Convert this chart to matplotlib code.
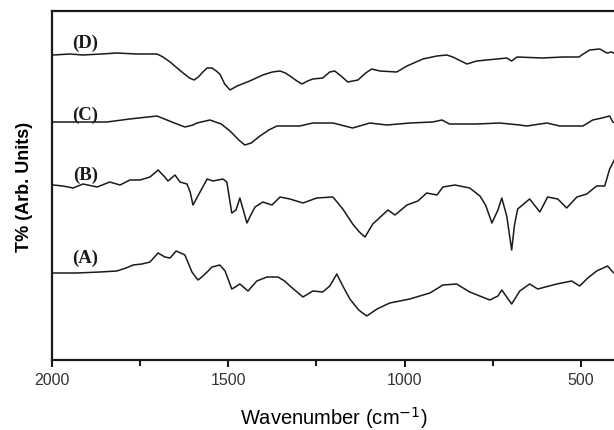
import matplotlib

matplotlib.use("Agg")
import matplotlib.pyplot as plt
from matplotlib.ticker import MultipleLocator

# --- dados (numero de onda em cm-1, T% em unidades arbitrarias) ---
wn_d = [1996, 1950, 1912, 1860, 1816, 1760, 1702, 1685, 1665, 1645, 1628, 1610, 1597, 1585, 1572,
        1560, 1546, 1534, 1524, 1510, 1495, 1485, 1475, 1439, 1402, 1375, 1353, 1338, 1325, 1305,
        1291, 1275, 1260, 1232, 1212, 1198, 1180, 1161, 1132, 1110, 1093, 1070, 1022, 993, 948,
        908, 880, 863, 840, 823, 795, 738, 710, 696, 681, 608, 551, 505, 497, 475, 446, 426,
        412, 402]
t_d = [305, 306, 305, 306, 307, 306, 306, 303, 298, 292, 287, 282, 280, 283, 288,
       292, 292, 289, 286, 276, 270, 272, 274, 279, 285, 288, 289, 287, 284, 279,
       276, 279, 281, 282, 288, 289, 284, 278, 280, 287, 291, 289, 288, 294, 301,
       304, 305, 303, 299, 296, 299, 301, 302, 299, 303, 302, 303, 303, 305, 310, 311, 307,
       308, 306]

wn_c = [1997, 1920, 1844, 1780, 1702, 1660, 1623, 1600, 1589, 1552, 1520, 1495, 1470, 1453, 1435,
        1410, 1385, 1362, 1297, 1260, 1203, 1147, 1098, 1050, 985, 920, 894, 872, 795, 730,
        673, 653, 596, 560, 494, 466, 440, 418, 409, 402]
t_c = [238, 238, 238, 241, 244, 238, 233, 235, 237, 240, 236, 229, 220, 215, 217,
       224, 230, 234, 234, 237, 237, 232, 237, 235, 237, 238, 240, 236, 236, 237,
       235, 234, 237, 234, 234, 240, 242, 244, 238, 237]

wn_b = [1997, 1969, 1940, 1912, 1872, 1836, 1807, 1779, 1750, 1722, 1699, 1680, 1671, 1651, 1637,
        1617, 1608, 1600, 1580, 1560, 1543, 1515, 1504, 1490, 1478, 1467, 1447, 1436, 1424, 1402,
        1376, 1353, 1325, 1288, 1249, 1203, 1175, 1147, 1128, 1112, 1090, 1047, 1027, 993, 962,
        937, 908, 891, 857, 815, 786, 770, 752, 735, 724, 710, 696, 688, 679, 645, 616, 594,
        565, 540, 511, 483, 455, 432, 418, 406, 402]
t_b = [175, 174, 172, 176, 173, 178, 175, 180, 180, 183, 190, 183, 179, 185, 178,
       176, 168, 155, 168, 181, 179, 181, 178, 147, 150, 162, 137, 145, 153, 158,
       155, 163, 161, 157, 162, 163, 151, 136, 128, 123, 136, 150, 145, 155, 159,
       167, 165, 173, 175, 172, 164, 155, 137, 150, 162, 144, 110, 135, 151, 161, 148, 163,
       161, 152, 163, 166, 174, 174, 191, 199, 203]

wn_a = [1997, 1929, 1864, 1816, 1790, 1770, 1745, 1722, 1699, 1680, 1665, 1648, 1635, 1623, 1603,
        1586, 1575, 1560, 1546, 1524, 1509, 1490, 1480, 1467, 1444, 1419, 1390, 1359, 1340, 1325,
        1288, 1260, 1232, 1212, 1192, 1175, 1155, 1130, 1107, 1078, 1042, 985, 928, 891, 852,
        815, 758, 735, 724, 696, 673, 645, 622, 568, 526, 503, 480, 455, 424, 409, 402]
t_a = [87, 87, 88, 89, 92, 95, 96, 98, 107, 103, 102, 109, 107, 105, 88,
       80, 83, 88, 93, 95, 89, 71, 73, 76, 69, 79, 83, 83, 79, 74,
       63, 69, 68, 74, 86, 74, 61, 50, 44, 51, 57, 61, 67, 75, 76,
       68, 60, 64, 70, 56, 69, 76, 71, 76, 79, 74, 82, 89, 94, 88, 86]

rotulos = ["(D)", "(C)", "(B)", "(A)"]
rotulo_x = [1906, 1906, 1906, 1906]
rotulo_y = [318, 246, 186, 103]

fig = plt.figure(figsize=(6.14, 4.31), dpi=100)
ax = fig.add_axes([52 / 614, 70 / 431, 564 / 614, 349 / 431])

for wn, t in [(wn_d, t_d), (wn_c, t_c), (wn_b, t_b), (wn_a, t_a)]:
    ax.plot(wn, t, color="#1a1a1a", lw=1.1)

for txt, x, y in zip(rotulos, rotulo_x, rotulo_y):
    ax.text(x, y, txt, ha="center", va="center", fontsize=13.5, fontweight="bold",
            family="Liberation Serif", color="#1a1a1a")

ax.set_xlim(2000, 400)
ax.set_ylim(0, 349)
ax.set_yticks([])
ax.xaxis.set_major_locator(MultipleLocator(500))
ax.xaxis.set_minor_locator(MultipleLocator(250))
ax.tick_params(axis="x", which="both", direction="out", width=1.5, colors="#1a1a1a",
               labelcolor="#333333", labelsize=11.5, pad=4)
ax.tick_params(axis="x", which="major", length=5)
ax.tick_params(axis="x", which="minor", length=4)
for lbl in ax.get_xticklabels():
    lbl.set_family("Liberation Sans")
for s in ax.spines.values():
    s.set_linewidth(1.6)
    s.set_color("#1a1a1a")

ax.set_xlabel("Wavenumber (cm$^{\\mathsf{-1}}$)", fontsize=14.5, family="Liberation Sans",
              labelpad=12)
ax.set_ylabel("T% (Arb. Units)", fontsize=13, fontweight="bold", family="Liberation Sans",
              labelpad=14)

plt.savefig("out.png", dpi=100)
plt.close()
